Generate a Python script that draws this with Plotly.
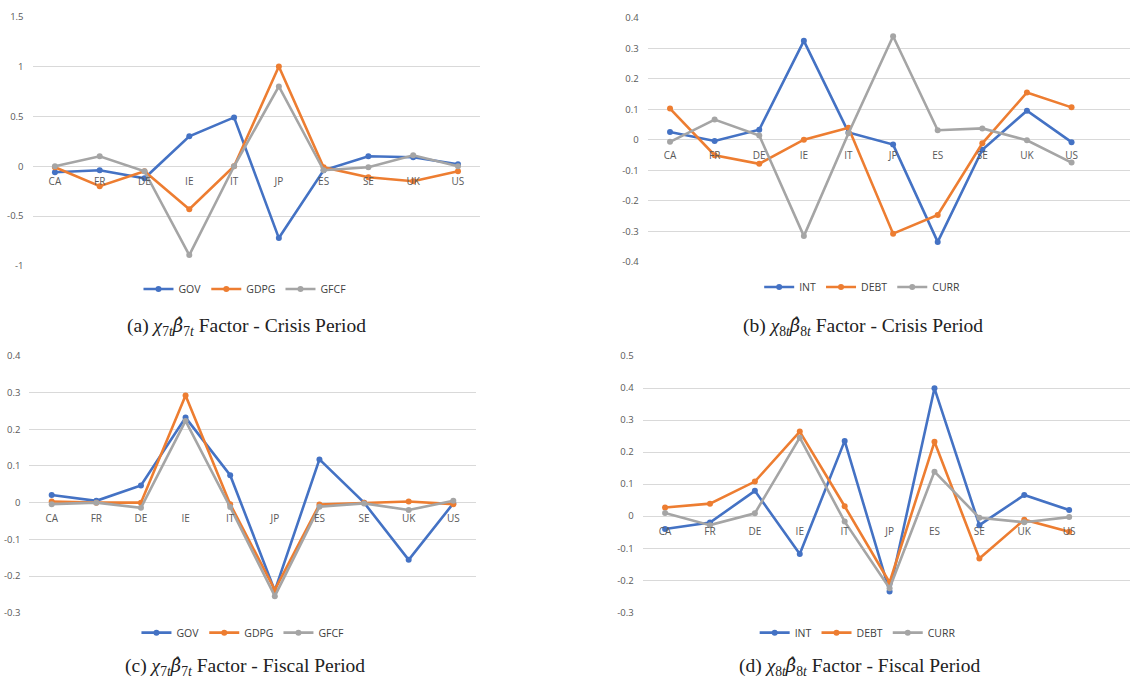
import plotly.graph_objects as go

countries = ["CA", "FR", "DE", "IE", "IT", "JP", "ES", "SE", "UK", "US"]

# (a) chi7 beta7 - Crisis period
a_gov = [-0.06, -0.04, -0.12, 0.30, 0.49, -0.72, -0.04, 0.10, 0.09, 0.02]
a_gdpg = [-0.01, -0.20, -0.05, -0.43, 0.00, 1.00, -0.01, -0.11, -0.15, -0.05]
a_gfcf = [0.00, 0.10, -0.05, -0.89, 0.00, 0.80, -0.04, -0.01, 0.11, 0.00]

# (b) chi8 beta8 - Crisis period
b_int = [0.025, -0.004, 0.033, 0.324, 0.024, -0.016, -0.335, -0.033, 0.095, -0.008]
b_debt = [0.102, -0.051, -0.079, 0.000, 0.039, -0.308, -0.247, -0.012, 0.155, 0.106]
b_curr = [-0.007, 0.066, 0.014, -0.316, 0.021, 0.339, 0.031, 0.037, -0.002, -0.075]

# (c) chi7 beta7 - Fiscal period
c_gov = [0.021, 0.005, 0.047, 0.232, 0.075, -0.240, 0.118, 0.000, -0.156, -0.002]
c_gdpg = [0.003, 0.000, 0.000, 0.292, -0.004, -0.238, -0.005, 0.000, 0.003, -0.004]
c_gfcf = [-0.004, 0.000, -0.014, 0.223, -0.012, -0.255, -0.011, -0.002, -0.020, 0.005]

# (d) chi8 beta8 - Fiscal period
d_int = [-0.040, -0.020, 0.079, -0.118, 0.235, -0.235, 0.399, -0.028, 0.066, 0.019]
d_debt = [0.027, 0.039, 0.108, 0.264, 0.031, -0.207, 0.232, -0.132, -0.011, -0.049]
d_curr = [0.010, -0.028, 0.009, 0.245, -0.017, -0.225, 0.139, -0.005, -0.019, -0.003]

a_ticks = [-1, -0.5, 0, 0.5, 1, 1.5]
a_ticktext = ["-1", "-0.5", "0", "0.5", "1", "1.5"]
b_ticks = [-0.4, -0.3, -0.2, -0.1, 0, 0.1, 0.2, 0.3, 0.4]
b_ticktext = ["-0.4", "-0.3", "-0.2", "-0.1", "0", "0.1", "0.2", "0.3", "0.4"]
c_ticks = [-0.3, -0.2, -0.1, 0, 0.1, 0.2, 0.3, 0.4]
c_ticktext = ["-0.3", "-0.2", "-0.1", "0", "0.1", "0.2", "0.3", "0.4"]
d_ticks = [-0.3, -0.2, -0.1, 0, 0.1, 0.2, 0.3, 0.4, 0.5]
d_ticktext = ["-0.3", "-0.2", "-0.1", "0", "0.1", "0.2", "0.3", "0.4", "0.5"]

HAT = '<span style="font-family:DejaVu Serif;font-size:18px">β̂</span>'
captions = [
    f"(a) <i>χ</i><sub>7<i>t</i></sub><i>{HAT}</i><sub>7<i>t</i></sub> Factor - Crisis Period",
    f"(b) <i>χ</i><sub>8<i>t</i></sub><i>{HAT}</i><sub>8<i>t</i></sub> Factor - Crisis Period",
    f"(c) <i>χ</i><sub>7<i>t</i></sub><i>{HAT}</i><sub>7<i>t</i></sub> Factor - Fiscal Period",
    f"(d) <i>χ</i><sub>8<i>t</i></sub><i>{HAT}</i><sub>8<i>t</i></sub> Factor - Fiscal Period",
]

BLUE, ORANGE, GRAY = "#4472C4", "#ED7D31", "#A5A5A5"
GRID = "#D9D9D9"
TXT = "#595959"

panels = [
    dict(series=[("GOV", a_gov, BLUE), ("GDPG", a_gdpg, ORANGE), ("GFCF", a_gfcf, GRAY)],
         xdom=[0.0288, 0.4251], xr=[-0.5, 9.5], ydom=[0.6088, 0.9755], yr=[-1, 1.5],
         tv=a_ticks, tt=a_ticktext, leg=(0.2168, 0.575), cap=(0.2177, 0.519)),
    dict(series=[("INT", b_int, BLUE), ("DEBT", b_debt, ORANGE), ("CURR", b_curr, GRAY)],
         xdom=[0.5732, 1.0], xr=[-0.5, 10.31], ydom=[0.6151, 0.9740], yr=[-0.4, 0.4],
         tv=b_ticks, tt=b_ticktext, leg=(0.763, 0.578), cap=(0.764, 0.519)),
    dict(series=[("GOV", c_gov, BLUE), ("GDPG", c_gdpg, ORANGE), ("GFCF", c_gfcf, GRAY)],
         xdom=[0.0260, 0.4209], xr=[-0.5, 9.5], ydom=[0.0990, 0.4765], yr=[-0.3, 0.4],
         tv=c_ticks, tt=c_ticktext, leg=(0.215, 0.0696), cap=(0.2168, 0.0185)),
    dict(series=[("INT", d_int, BLUE), ("DEBT", d_debt, ORANGE), ("CURR", d_curr, GRAY)],
         xdom=[0.5687, 1.0], xr=[-0.5, 10.355], ydom=[0.0996, 0.4765], yr=[-0.3, 0.5],
         tv=d_ticks, tt=d_ticktext, leg=(0.759, 0.0696), cap=(0.761, 0.0185)),
]

fig = go.Figure()
layout = dict(template="none", width=1130, height=680,
              margin=dict(l=0, r=0, t=0, b=0, autoexpand=False),
              paper_bgcolor="white", plot_bgcolor="white",
              font=dict(family="Open Sans", color=TXT), annotations=[])

for i, p in enumerate(panels, start=1):
    sfx = "" if i == 1 else str(i)
    legname = "legend" if i == 1 else f"legend{i}"
    for name, vals, col in p["series"]:
        fig.add_trace(go.Scatter(
            x=list(range(len(countries))), y=vals, name=name, mode="lines+markers",
            line=dict(color=col, width=2.6), marker=dict(color=col, size=6),
            xaxis=f"x{sfx}", yaxis=f"y{sfx}", legend=legname))
    y0, y1 = p["yr"]
    d0, d1 = p["ydom"]
    zero_pos = d0 + (0 - y0) / (y1 - y0) * (d1 - d0)
    layout[f"xaxis{sfx}"] = dict(
        domain=p["xdom"], range=p["xr"], anchor="free", position=zero_pos,
        tickvals=list(range(len(countries))), ticktext=countries, automargin=False,
        showgrid=False, zeroline=False, showline=False,
        ticks="outside", ticklen=6, tickcolor="rgba(0,0,0,0)",
        tickfont=dict(size=10, color=TXT), fixedrange=True)
    layout[f"yaxis{sfx}"] = dict(
        domain=p["ydom"], range=p["yr"], anchor=f"x{sfx}", automargin=False,
        tickvals=p["tv"], ticktext=p["tt"], showgrid=True, gridcolor=GRID, gridwidth=1,
        zeroline=False, showline=False, ticks="", ticklabelstandoff=8,
        tickfont=dict(size=9.5, color=TXT), fixedrange=True)
    layout[legname] = dict(orientation="h", x=p["leg"][0], y=p["leg"][1],
                           xanchor="center", yanchor="middle", itemwidth=30,
                           font=dict(size=10.5, color="#404040"), bgcolor="rgba(0,0,0,0)",
                           tracegroupgap=0)
    layout["annotations"].append(dict(
        text=captions[i - 1], x=p["cap"][0], y=p["cap"][1], xref="paper", yref="paper",
        xanchor="center", yanchor="middle", showarrow=False,
        font=dict(family="Liberation Serif", size=19.5, color="#222222")))

fig.update_layout(**layout)
fig.write_html("out.html", config={"displayModeBar": False},
               post_script="document.body.style.margin='0';document.body.style.overflow='hidden';")
